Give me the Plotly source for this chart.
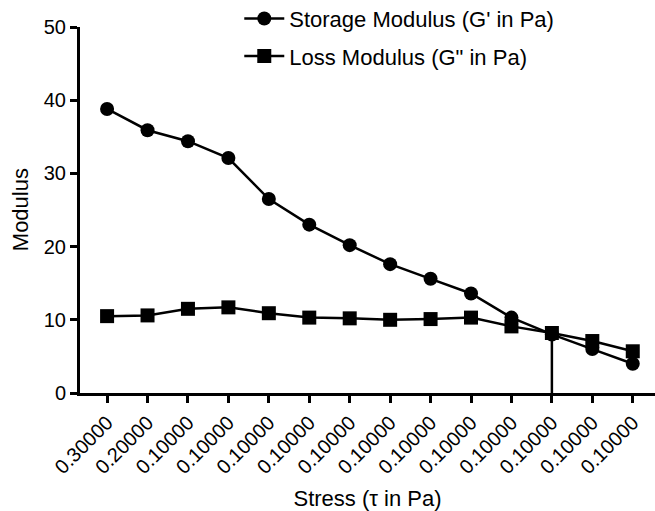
import plotly.graph_objects as go

stress_labels = ["0.30000", "0.20000"] + ["0.10000"] * 12
storage = [38.8, 35.9, 34.4, 32.1, 26.5, 23.0, 20.2, 17.6, 15.6, 13.6, 10.3, 8.0, 6.0, 4.0]
loss = [10.5, 10.6, 11.5, 11.7, 10.9, 10.3, 10.2, 10.0, 10.1, 10.3, 9.1, 8.2, 7.1, 5.7]
drop_index = 11

xpos = list(range(len(stress_labels)))
FONT = "Arial, Liberation Sans, sans-serif"

fig = go.Figure()
fig.add_trace(go.Scatter(
    x=xpos, y=storage, mode="lines+markers", name="Storage Modulus (G' in Pa)",
    line=dict(color="black", width=2.5), marker=dict(symbol="circle", size=14, color="black"),
    legendgroup="a", cliponaxis=False))
fig.add_trace(go.Scatter(
    x=xpos, y=loss, mode="lines+markers", name='Loss Modulus (G" in Pa)',
    line=dict(color="black", width=2.5), marker=dict(symbol="square", size=14, color="black"),
    legendgroup="b", cliponaxis=False))
fig.add_trace(go.Scatter(
    x=[xpos[drop_index], xpos[drop_index]], y=[0, loss[drop_index]], mode="lines",
    line=dict(color="black", width=2.5), showlegend=False, hoverinfo="skip"))

fig.update_layout(
    width=655, height=511,
    margin=dict(l=80, r=0, t=27, b=118, autoexpand=False),
    plot_bgcolor="white", paper_bgcolor="white",
    font=dict(family=FONT, color="black", size=18),
    showlegend=True,
    legend=dict(x=0.277, y=1.08, xanchor="left", yanchor="top", font=dict(size=22, family=FONT),
                bgcolor="rgba(0,0,0,0)", tracegroupgap=6, traceorder="grouped",
                itemwidth=40),
    xaxis=dict(
        range=[-0.67, 13.55], tickmode="array", tickvals=xpos, ticktext=stress_labels,
        tickangle=-45, showgrid=False, zeroline=False, showline=True, linecolor="black",
        linewidth=3, ticks="outside", ticklen=7, tickwidth=3, tickcolor="black",
        tickfont=dict(size=20, family=FONT), automargin=False,
        title=dict(text="Stress (τ in Pa)", font=dict(size=22, family=FONT), standoff=14)),
    yaxis=dict(
        range=[0, 50], tickvals=[0, 10, 20, 30, 40, 50], showgrid=False, zeroline=False,
        showline=True, linecolor="black", linewidth=3, ticks="outside", ticklen=7,
        tickwidth=3, tickcolor="black", tickfont=dict(size=20, family=FONT), automargin=False),
    annotations=[dict(text="Modulus", textangle=-90, xref="paper", yref="paper",
                      x=-0.104, y=0.5, xanchor="center", yanchor="middle", showarrow=False,
                      font=dict(size=22, family=FONT, color="black"))],
)

fig.write_html("out.html")
